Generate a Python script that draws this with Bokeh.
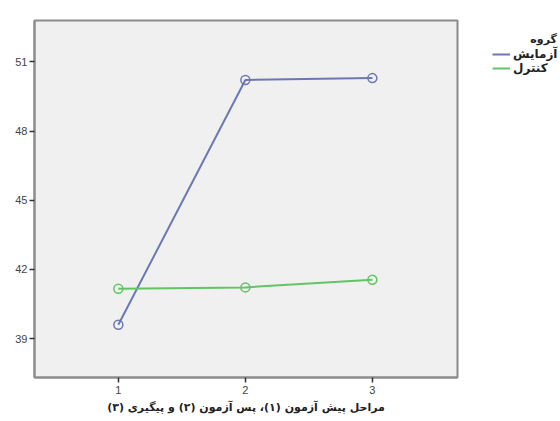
from bokeh.plotting import figure
from bokeh.models import Range1d, FixedTicker, Legend, LegendItem
from bokeh.embed import file_html
from bokeh.resources import INLINE

stages = [1, 2, 3]
experiment = [39.6, 50.22, 50.3]
control = [41.16, 41.22, 41.55]
y_ticks = [39, 42, 45, 48, 51]
group_title = "گروه"
series_names = ["آزمایش", "کنترل"]
x_title = "مراحل پیش آزمون (۱)، پس آزمون (۲) و پیگیری (۳)"

blue = "#6c77b3"
green = "#62c462"

p = figure(frame_width=423, frame_height=357, output_backend="svg",
           toolbar_location=None, x_range=Range1d(0.34, 3.67),
           y_range=Range1d(37.31, 52.8),
           min_border_left=34, min_border_top=20, min_border_bottom=10,
           min_border_right=0)

p.background_fill_color = "#f0f0f0"
p.border_fill_color = "white"
p.outline_line_color = "#8c8c8c"
p.outline_line_width = 2
p.grid.visible = False

lb = p.line(stages, experiment, line_color=blue, line_width=2)
p.scatter(stages, experiment, marker="circle", size=9, fill_color=None,
          line_color=blue, line_width=1.5)
lg = p.line(stages, control, line_color=green, line_width=2)
p.scatter(stages, control, marker="circle", size=9, fill_color=None,
          line_color=green, line_width=1.5)

for ax in (p.xaxis[0], p.yaxis[0]):
    ax.axis_line_color = "#8c8c8c"
    ax.axis_line_width = 2
    ax.major_tick_line_color = "#333333"
    ax.major_tick_line_width = 1.5
    ax.major_tick_out = 5
    ax.major_tick_in = 0
    ax.minor_tick_line_color = None
    ax.major_label_text_font = "Liberation Sans"
    ax.major_label_text_font_size = "11px"
    ax.major_label_text_color = "#444444"

p.xaxis.ticker = FixedTicker(ticks=stages)
p.yaxis.ticker = FixedTicker(ticks=y_ticks)
p.xaxis.major_label_standoff = 3
p.yaxis.major_label_standoff = 2
p.xaxis.axis_label = x_title
p.xaxis.axis_label_text_font = "DejaVu Sans"
p.xaxis.axis_label_text_font_style = "bold"
p.xaxis.axis_label_text_font_size = "11px"
p.xaxis.axis_label_text_color = "#222222"
p.xaxis.axis_label_standoff = 4

legend = Legend(items=[LegendItem(label=series_names[0], renderers=[lb]),
                       LegendItem(label=series_names[1], renderers=[lg])],
                title="\u00a0" * 10 + group_title,
                location=(35, 302))
legend.title_text_font = "DejaVu Sans"
legend.title_text_font_style = "bold"
legend.title_text_font_size = "11px"
legend.title_text_color = "#222222"
legend.title_standoff = 1
legend.label_text_font = "DejaVu Sans"
legend.label_text_font_style = "bold"
legend.label_text_font_size = "12px"
legend.label_text_color = "#222222"
legend.glyph_width = 18
legend.glyph_height = 14
legend.label_standoff = 3
legend.label_height = 14
legend.spacing = 0
legend.padding = 0
legend.margin = 0
legend.border_line_color = None
legend.background_fill_color = None
legend.background_fill_alpha = 0
legend.inactive_fill_alpha = 0
p.add_layout(legend, "right")

open("out.html", "w").write(file_html(p, INLINE))
